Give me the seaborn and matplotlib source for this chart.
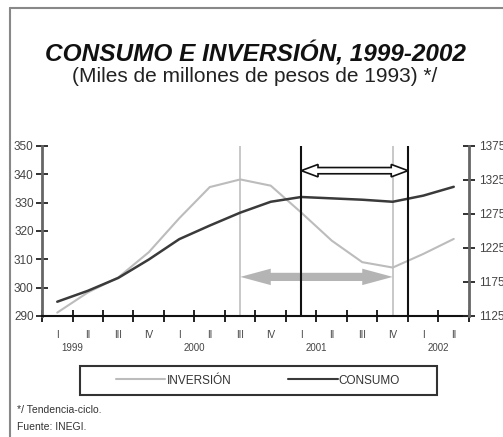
import numpy as np
import pandas as pd
import matplotlib
matplotlib.use('Agg')
import matplotlib.pyplot as plt
import seaborn as sns
from matplotlib.patches import Polygon, Rectangle
from matplotlib.lines import Line2D

# quarterly data, 1999-I .. 2002-II
quarters = ['I', 'II', 'III', 'IV', 'I', 'II', 'III', 'IV',
            'I', 'II', 'III', 'IV', 'I', 'II']
years = ['1999', '2000', '2001', '2002']
year_pos = [1, 5, 9, 13]
inversion = [291.2, 298.3, 303.6, 312.5, 324.5, 335.5, 338.2,
             336.0, 326.5, 316.6, 309.0, 307.1, 311.9, 317.2]
consumo = [1146, 1162, 1181, 1208, 1238, 1258, 1277,
           1293, 1300, 1298, 1296, 1293, 1302, 1315]

# reference marks
light_lines = [6.5, 11.5]
dark_lines = [8.5, 12.0]
white_arrow = (8.5, 12.0, 341.3)
gray_arrow = (6.5, 11.5, 303.8)

sns.set_theme(style='white')
plt.rcParams['font.family'] = ['Liberation Sans', 'DejaVu Sans']

df = pd.DataFrame({'pos': np.arange(len(quarters)) + 0.5,
                   'inv': inversion, 'con': consumo})

fig = plt.figure(figsize=(5.03, 4.37), dpi=100)
ax = fig.add_axes([42 / 503, 1 - 316 / 437, 427 / 503, 170 / 437])
ax2 = ax.twinx()


def double_arrow(a, x0, x1, y, head_len, head_half, shaft_half, **kw):
    pts = [(x0, y), (x0 + head_len, y + head_half), (x0 + head_len, y + shaft_half),
           (x1 - head_len, y + shaft_half), (x1 - head_len, y + head_half), (x1, y),
           (x1 - head_len, y - head_half), (x1 - head_len, y - shaft_half),
           (x0 + head_len, y - shaft_half), (x0 + head_len, y - head_half)]
    a.add_patch(Polygon(pts, closed=True, **kw))


for x in light_lines:
    ax.axvline(x, color='#c8c8c8', lw=1.4, zorder=1)
double_arrow(ax, gray_arrow[0], gray_arrow[1], gray_arrow[2], 1.0, 2.9, 1.45,
             facecolor='#b4b4b4', edgecolor='none', zorder=2)
sns.lineplot(data=df, x='pos', y='inv', ax=ax, color='#bcbcbc', lw=1.5, zorder=3)

sns.lineplot(data=df, x='pos', y='con', ax=ax2, color='#3a3a3a', lw=1.8, zorder=3)
for x in dark_lines:
    ax2.axvline(x, color='#111111', lw=1.5, zorder=4)
double_arrow(ax, white_arrow[0], white_arrow[1], white_arrow[2], 0.55, 2.2, 1.1,
             facecolor='white', edgecolor='#111111', lw=1.2, zorder=5)

ax.set_xlim(0, 14)
ax.set_ylim(290, 350)
ax2.set_ylim(1125, 1375)
ax.set_yticks(range(290, 351, 10))
ax2.set_yticks(range(1125, 1376, 50))
ax.set_xticks(range(15))
ax.set_xticklabels([])
ax.set_xticks(df['pos'], minor=True)
ax.set_xticklabels(quarters, minor=True, fontsize=7, color='#444444')
for a in (ax, ax2):
    a.set_xlabel('')
    a.set_ylabel('')
    a.spines['top'].set_visible(False)
ax.spines['right'].set_visible(False)
ax2.spines['left'].set_visible(False)
ax2.spines['bottom'].set_visible(False)
ax.spines['left'].set_color('#666666')
ax.spines['left'].set_linewidth(2)
ax.spines['bottom'].set_color('#111111')
ax.spines['bottom'].set_linewidth(1.5)
ax2.spines['right'].set_color('#666666')
ax2.spines['right'].set_linewidth(2)

ax.tick_params(axis='x', which='major', direction='inout', length=8, width=1.3,
               color='#111111', bottom=True)
ax.tick_params(axis='x', which='minor', length=0, pad=10, bottom=True)
ax.tick_params(axis='y', direction='inout', length=8, width=1.3, color='#222222',
               labelsize=8.5, labelcolor='#444444', pad=2, left=True)
ax2.tick_params(axis='y', direction='inout', length=8, width=1.3, color='#222222',
                labelsize=8.5, labelcolor='#444444', pad=3, right=True)

for yr, xp in zip(years, year_pos):
    ax.text(xp, -0.19, yr, transform=ax.get_xaxis_transform(), ha='center',
            va='center', fontsize=7, color='#444444')

# legend box
fig.add_artist(Rectangle((80 / 503, 1 - 395 / 437), 357 / 503, 29 / 437,
                         transform=fig.transFigure, fill=False,
                         edgecolor='#333333', lw=1.5))
handles = [Line2D([], [], color='#bcbcbc', lw=1.5), Line2D([], [], color='#3a3a3a', lw=1.5)]
leg = fig.legend(handles, ['INVERSIÓN', 'CONSUMO'], loc='center', ncol=2,
                 bbox_to_anchor=(258 / 503, 1 - 380.5 / 437), frameon=False,
                 fontsize=8.5, handlelength=4.2, handletextpad=0.1,
                 columnspacing=4.8)
for t in leg.get_texts():
    t.set_color('#333333')

fig.text(255 / 503, 1 - 54 / 437, 'CONSUMO E INVERSIÓN, 1999-2002', ha='center',
         va='center', fontsize=17.6, fontweight='bold', fontstyle='italic', color='#111111')
fig.text(255 / 503, 1 - 77 / 437, '(Miles de millones de pesos de 1993) */',
         ha='center', va='center', fontsize=15, color='#222222')
fig.text(17 / 503, 1 - 410 / 437, '*/ Tendencia-ciclo.', ha='left', va='center',
         fontsize=7.5, color='#333333')
fig.text(17 / 503, 1 - 427 / 437, 'Fuente: INEGI.', ha='left', va='center',
         fontsize=7.5, color='#333333')

# outer frame
fig.add_artist(Line2D([9.5 / 503, 1], [1 - 8 / 437, 1 - 8 / 437], color='#888888', lw=1.5))
fig.add_artist(Line2D([9.5 / 503, 9.5 / 503], [0, 1 - 8 / 437], color='#888888', lw=1.5))

fig.savefig('out.png', dpi=100)
